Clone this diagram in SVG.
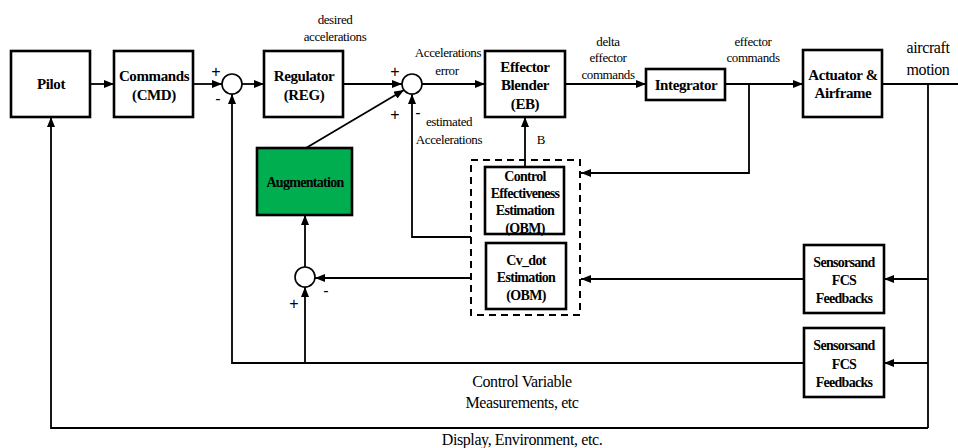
<svg xmlns="http://www.w3.org/2000/svg" width="958" height="448" viewBox="0 0 958 448">
<defs>
<marker id="ah" viewBox="0 0 10 8" refX="10" refY="4" markerWidth="10" markerHeight="8" markerUnits="userSpaceOnUse" orient="auto">
<path d="M0,0 L10,4 L0,8 Z" fill="#000"/>
</marker>
</defs>
<style>
.box{fill:#fff;stroke:#000;stroke-width:2.6}
.green{fill:#00ae4f;stroke:#000;stroke-width:2.6}
.sum{fill:#fff;stroke:#000;stroke-width:1.6}
.ln{fill:none;stroke:#000;stroke-width:1.8}
.ar{fill:none;stroke:#000;stroke-width:1.8;marker-end:url(#ah)}
text{font-family:"Liberation Serif",Tinos,"Times New Roman","DejaVu Serif",serif;text-anchor:middle}
.b{font-weight:bold;font-size:15px;letter-spacing:-0.4px}
.bs{font-weight:bold;font-size:14px;letter-spacing:-0.7px}
.t{font-size:13px;letter-spacing:-0.4px}
.tl{font-size:16px;letter-spacing:-0.4px}
.sg{font-family:"Liberation Sans",Arial,sans-serif;font-size:16px}
</style>
<rect width="958" height="448" fill="#fff"/>
<g id="connectors">
<line class="ar" x1="90" y1="84" x2="114" y2="84"/>
<line class="ar" x1="193" y1="84" x2="222" y2="84"/>
<line class="ar" x1="242" y1="84" x2="264" y2="84"/>
<line class="ar" x1="343" y1="84" x2="402" y2="84"/>
<line class="ar" x1="422" y1="84" x2="485" y2="84"/>
<line class="ar" x1="565" y1="84" x2="646" y2="84"/>
<line class="ar" x1="725" y1="84" x2="803" y2="84"/>
<line class="ln" x1="882" y1="84" x2="958" y2="84"/>
<line class="ln" x1="928" y1="84" x2="928" y2="428"/>
<polyline class="ar" points="928,428 51,428 51,117"/>
<line class="ar" x1="928" y1="279" x2="884" y2="279"/>
<line class="ar" x1="928" y1="363" x2="884" y2="363"/>
<line class="ar" x1="804" y1="279" x2="581" y2="279"/>
<polyline class="ar" points="804,363 232,363 232,94"/>
<line class="ar" x1="305" y1="363" x2="305" y2="287"/>
<line class="ar" x1="471" y1="278" x2="315" y2="278"/>
<line class="ar" x1="305" y1="267" x2="305" y2="215"/>
<line class="ar" x1="306" y1="148" x2="404" y2="90"/>
<polyline class="ar" points="471,237 412,237 412,94"/>
<line class="ar" x1="525" y1="167" x2="525" y2="117"/>
<polyline class="ar" points="749,84 749,173 581,173"/>
</g>
<g id="pilot"><rect class="box" x="11" y="51" width="79" height="66"/><text class="b" x="51" y="89">Pilot</text></g>
<g id="commands"><rect class="box" x="114" y="51" width="79" height="66"/><text class="b" x="154" y="81">Commands</text><text class="b" x="154" y="100">(CMD)</text></g>
<g id="sum1"><circle class="sum" cx="232" cy="84" r="10"/><text class="sg" x="216" y="77">+</text><text class="sg" x="218" y="104">-</text></g>
<g id="regulator"><rect class="box" x="264" y="51" width="79" height="66"/><text class="b" x="304" y="81">Regulator</text><text class="b" x="304" y="100">(REG)</text></g>
<g id="sum2"><circle class="sum" cx="412" cy="84" r="10"/><text class="sg" x="395" y="77">+</text><text class="sg" x="395" y="120">+</text><text class="sg" x="418" y="118">-</text></g>
<g id="effector-blender"><rect class="box" x="485" y="51" width="80" height="66"/><text class="b" x="525" y="72">Effector</text><text class="b" x="525" y="90">Blender</text><text class="b" x="525" y="109">(EB)</text></g>
<g id="integrator"><rect class="box" x="646" y="69" width="79" height="31"/><text class="b" x="686" y="90">Integrator</text></g>
<g id="actuator"><rect class="box" x="803" y="50" width="79" height="67"/><text class="b" x="843" y="80">Actuator &amp;</text><text class="b" x="843" y="98">Airframe</text></g>
<g id="augmentation"><rect class="green" x="257" y="148" width="95" height="67"/><text class="bs" x="305" y="187">Augmentation</text></g>
<g id="sum3"><circle class="sum" cx="305" cy="277" r="10"/><text class="sg" x="294" y="309">+</text><text class="sg" x="326" y="296">-</text></g>
<g id="estimation-group"><rect x="471" y="160" width="109" height="155" fill="none" stroke="#000" stroke-width="2" stroke-dasharray="7,5"/></g>
<g id="control-effectiveness"><rect class="box" x="485" y="167" width="79" height="67"/><text class="bs" x="525" y="181">Control</text><text class="bs" x="525" y="198">Effectiveness</text><text class="bs" x="525" y="215">Estimation</text><text class="bs" x="525" y="233">(OBM)</text></g>
<g id="cv-dot"><rect class="box" x="486" y="243" width="80" height="66"/><text class="bs" x="526" y="265">Cv_dot</text><text class="bs" x="526" y="282">Estimation</text><text class="bs" x="526" y="300">(OBM)</text></g>
<g id="sensors1"><rect class="box" x="804" y="245" width="80" height="68"/><text class="bs" x="844" y="267" word-spacing="-3">Sensors and</text><text class="bs" x="844" y="285">FCS</text><text class="bs" x="844" y="303">Feedbacks</text></g>
<g id="sensors2"><rect class="box" x="804" y="328" width="80" height="69"/><text class="bs" x="844" y="350" word-spacing="-3">Sensors and</text><text class="bs" x="844" y="369">FCS</text><text class="bs" x="844" y="387">Feedbacks</text></g>
<g id="labels">
<text class="t" x="335" y="24">desired</text>
<text class="t" x="335" y="41">accelerations</text>
<text class="t" x="448" y="57">Accelerations</text>
<text class="t" x="447" y="75">error</text>
<text class="t" x="449" y="126">estimated</text>
<text class="t" x="449" y="144">Accelerations</text>
<text class="t" x="541" y="144">B</text>
<text class="t" x="608" y="46">delta</text>
<text class="t" x="608" y="62">effector</text>
<text class="t" x="608" y="79">commands</text>
<text class="t" x="753" y="46">effector</text>
<text class="t" x="753" y="62">commands</text>
<text class="tl" x="928" y="53">aircraft</text>
<text class="tl" x="928" y="75">motion</text>
<text class="tl" x="522" y="387">Control Variable</text>
<text class="tl" x="522" y="408">Measurements, etc</text>
<text class="tl" x="522" y="445">Display, Environment, etc.</text>
</g>
</svg>
